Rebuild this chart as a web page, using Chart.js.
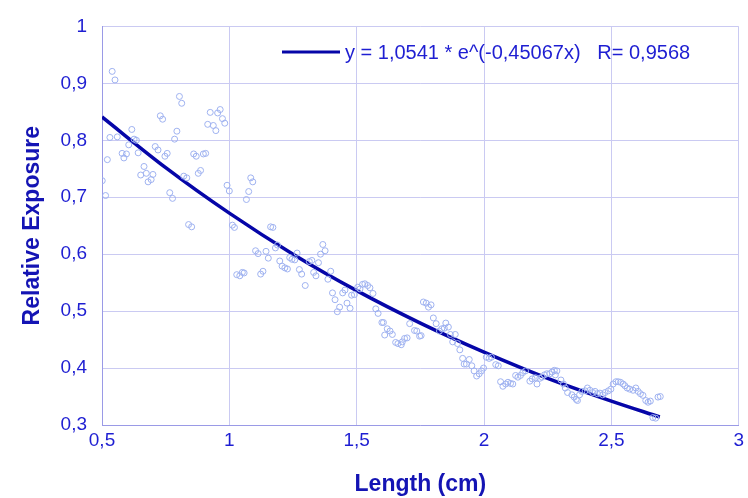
<!DOCTYPE html>
<html lang="en">

<head>
    <meta charset="UTF-8">
    <title>Relative Exposure</title>
    <script src="https://cdn.jsdelivr.net/npm/chart.js"></script>
    <style>
        body { margin: 0; background: #fff; }
        #grafico { display: block; }
    </style>
</head>

<body>
    <canvas id="grafico" width="748" height="498"></canvas>
</body>

</html>
<script>

    // measured points (length in cm / relative exposure)
    const lengthCm = [
        0.540, 0.551, 0.804, 0.813, 0.729, 0.738, 0.925, 0.964, 0.954, 0.973,
        0.982, 0.915, 0.937, 0.947, 0.617, 0.794, 0.785, 0.531, 0.560, 0.626,
        0.635, 0.605, 0.642, 0.579, 0.596, 0.586, 0.521, 0.709, 0.720, 0.756,
        0.747, 0.860, 0.870, 0.898, 0.907, 0.665, 0.652, 0.674, 0.700, 0.693,
        0.681, 0.501, 0.514, 0.887, 0.878, 0.821, 0.833, 0.766, 0.777, 0.840,
        0.852, 0.991, 1.000, 1.084, 1.092, 1.076, 1.067, 1.012, 1.020,
        1.162, 1.171, 1.189, 1.181, 1.367, 1.376, 1.358, 1.103, 1.113, 1.144,
        1.153, 1.198, 1.207, 1.218, 1.228, 1.237, 1.246, 1.257, 1.266, 1.275,
        1.284, 1.314, 1.324, 1.350, 1.331, 1.340, 1.298, 1.398, 1.387, 1.029,
        1.041, 1.051, 1.058, 1.123, 1.132, 1.405, 1.415, 1.445, 1.454, 1.433,
        1.424, 1.462, 1.474, 1.480, 1.491, 1.504, 1.513, 1.523, 1.532, 1.543,
        1.552, 1.564, 1.575, 1.584, 1.599, 1.605, 1.610,
        1.620, 1.631, 1.640, 1.653, 1.662, 1.675, 1.679, 1.688, 1.698, 1.708,
        1.727, 1.736, 1.747, 1.753, 1.762, 1.773, 1.782, 1.792, 1.801, 1.812,
        1.825, 1.834, 1.844, 1.850, 1.860, 1.868, 1.877, 1.887, 1.896, 1.905,
        1.916, 1.922, 1.931, 1.942, 1.952, 1.961, 1.971, 1.981, 1.990, 1.998,
        2.009, 2.020, 2.029, 2.046, 2.056, 2.065, 2.074, 2.085, 2.094, 2.104,
        2.113, 2.124, 2.133, 2.143, 2.152, 2.163,
        2.180, 2.189, 2.202, 2.208, 2.219, 2.228, 2.237, 2.247, 2.258, 2.267,
        2.276, 2.286, 2.280, 2.302, 2.312, 2.319, 2.328, 2.345, 2.354, 2.362,
        2.367, 2.375, 2.384, 2.397, 2.406, 2.416, 2.427, 2.436, 2.445, 2.455,
        2.466, 2.475, 2.488, 2.498, 2.507, 2.518, 2.527, 2.536, 2.546, 2.553,
        2.562, 2.572, 2.585, 2.596, 2.605, 2.614, 2.624, 2.635, 2.644, 2.653,
        2.663, 2.674, 2.683, 2.692
    ];
    const exposure = [
        0.921, 0.906, 0.877, 0.865, 0.843, 0.837, 0.849, 0.854, 0.848, 0.838,
        0.830, 0.828, 0.826, 0.817, 0.819, 0.816, 0.802, 0.805, 0.806, 0.802,
        0.800, 0.792, 0.778, 0.777, 0.776, 0.769, 0.766, 0.789, 0.783, 0.777,
        0.772, 0.776, 0.772, 0.776, 0.777, 0.754, 0.739, 0.742, 0.740, 0.731,
        0.727, 0.729, 0.703, 0.747, 0.742, 0.737, 0.734, 0.708, 0.698, 0.652,
        0.648, 0.721, 0.711, 0.734, 0.727, 0.710, 0.696, 0.651, 0.647,
        0.648, 0.647, 0.616, 0.611, 0.617, 0.606, 0.600, 0.606, 0.601, 0.605,
        0.593, 0.588, 0.579, 0.576, 0.574, 0.594, 0.591, 0.590, 0.602, 0.573,
        0.565, 0.587, 0.589, 0.585, 0.568, 0.562, 0.545, 0.570, 0.556, 0.564,
        0.562, 0.568, 0.567, 0.565, 0.570, 0.532, 0.520, 0.532, 0.537, 0.507,
        0.499, 0.514, 0.505, 0.528, 0.529, 0.542, 0.539, 0.547, 0.548, 0.545,
        0.541, 0.531, 0.504, 0.496, 0.480, 0.480, 0.458,
        0.469, 0.465, 0.459, 0.445, 0.443, 0.441, 0.446, 0.452, 0.453, 0.478,
        0.466, 0.465, 0.456, 0.457, 0.516, 0.514, 0.507, 0.511, 0.488, 0.478,
        0.465, 0.469, 0.470, 0.479, 0.472, 0.459, 0.446, 0.459, 0.443, 0.432,
        0.417, 0.407, 0.407, 0.415, 0.404, 0.395, 0.386, 0.390, 0.395, 0.400,
        0.419, 0.417, 0.419, 0.406, 0.404, 0.376, 0.368, 0.372, 0.375, 0.373,
        0.372, 0.387, 0.384, 0.387, 0.392, 0.395,
        0.377, 0.381, 0.383, 0.372, 0.382, 0.384, 0.388, 0.390, 0.390, 0.393,
        0.396, 0.395, 0.388, 0.379, 0.372, 0.365, 0.357, 0.353, 0.349, 0.345,
        0.343, 0.353, 0.359, 0.360, 0.365, 0.361, 0.357, 0.359, 0.355, 0.356,
        0.353, 0.357, 0.360, 0.363, 0.372, 0.376, 0.376, 0.375, 0.372, 0.369,
        0.365, 0.363, 0.361, 0.365, 0.359, 0.355, 0.352, 0.343, 0.340, 0.342,
        0.313, 0.312, 0.349, 0.350
    ];

    // fitted curve
    const fitX = [0.5, 0.75, 1.0, 1.25, 1.5, 1.75, 2.0, 2.25, 2.5, 2.69];
    const fitY = [0.841, 0.752, 0.672, 0.600, 0.536, 0.479, 0.428, 0.382, 0.342, 0.314];

    const xTickLabels = ['0,5', '1', '1,5', '2', '2,5', '3'];
    const yTickLabels = ['0,3', '0,4', '0,5', '0,6', '0,7', '0,8', '0,9', '1'];

    const legendText = 'y = 1,0541 * e^(-0,45067x)   R= 0,9568';

    const azulTexto = '#1e1ed2';
    const azulTitulo = '#1414b4';
    const azulLinha = '#0606a8';
    const corGrade = '#cacaf2';
    const fonte = "'Liberation Sans', Arial, sans-serif";

    const pontos = lengthCm.map(function (x, i) { return { x: x, y: exposure[i] }; });
    const curva = fitX.map(function (x, i) { return { x: x, y: fitY[i] }; });

    // legend drawn inside the plot, top right
    const legendaInterna = {
        id: 'legendaInterna',
        afterDraw: function (chart) {
            const c = chart.ctx;
            c.save();
            c.strokeStyle = azulLinha;
            c.lineWidth = 3;
            c.beginPath();
            c.moveTo(282, 52);
            c.lineTo(340, 52);
            c.stroke();
            c.fillStyle = azulTexto;
            c.font = '20px ' + fonte;
            c.textBaseline = 'middle';
            c.fillText(legendText, 345, 53);
            c.restore();
        }
    };

    const ctx = document.getElementById('grafico');

    new Chart(ctx, {
        type: 'scatter',
        data: {
            datasets: [{
                label: 'dados',
                data: pontos,
                pointRadius: 3,
                pointBorderWidth: 1,
                pointBackgroundColor: 'rgba(0,0,0,0)',
                pointBorderColor: '#9fb2f0',
                showLine: false
            }, {
                label: legendText,
                data: curva,
                showLine: true,
                pointRadius: 0,
                borderColor: azulLinha,
                borderWidth: 3.5,
                cubicInterpolationMode: 'monotone',
                fill: false
            }]
        },
        options: {
            responsive: false,
            animation: false,
            devicePixelRatio: 1,
            layout: {
                padding: { top: 19, right: 5, left: 0, bottom: 0 }
            },
            scales: {
                x: {
                    type: 'linear',
                    min: 0.5,
                    max: 3,
                    afterFit: function (scale) { scale.height = 73; },
                    ticks: {
                        stepSize: 0.5,
                        color: azulTexto,
                        padding: 4,
                        maxRotation: 0,
                        font: { family: fonte, size: 19 },
                        callback: function (value, index) { return xTickLabels[index]; }
                    },
                    grid: { color: corGrade, drawTicks: false },
                    border: { color: '#9a9ae6' },
                    title: {
                        display: true,
                        text: 'Length (cm)',
                        color: azulTitulo,
                        font: { family: fonte, size: 23, weight: 'bold' },
                        padding: { top: 0, bottom: 0 }
                    }
                },
                y: {
                    min: 0.3,
                    max: 1,
                    afterFit: function (scale) { scale.width = 102; },
                    ticks: {
                        stepSize: 0.1,
                        color: azulTexto,
                        padding: 15,
                        font: { family: fonte, size: 19 },
                        callback: function (value, index) { return yTickLabels[index]; }
                    },
                    grid: { color: corGrade, drawTicks: false },
                    border: { color: '#9a9ae6' },
                    title: {
                        display: true,
                        text: 'Relative Exposure',
                        color: azulTitulo,
                        font: { family: fonte, size: 23, weight: 'bold' },
                        padding: { top: 19, bottom: 0 }
                    }
                }
            },
            plugins: {
                legend: { display: false },
                tooltip: { enabled: false }
            }
        },
        plugins: [legendaInterna]
    });
</script>
